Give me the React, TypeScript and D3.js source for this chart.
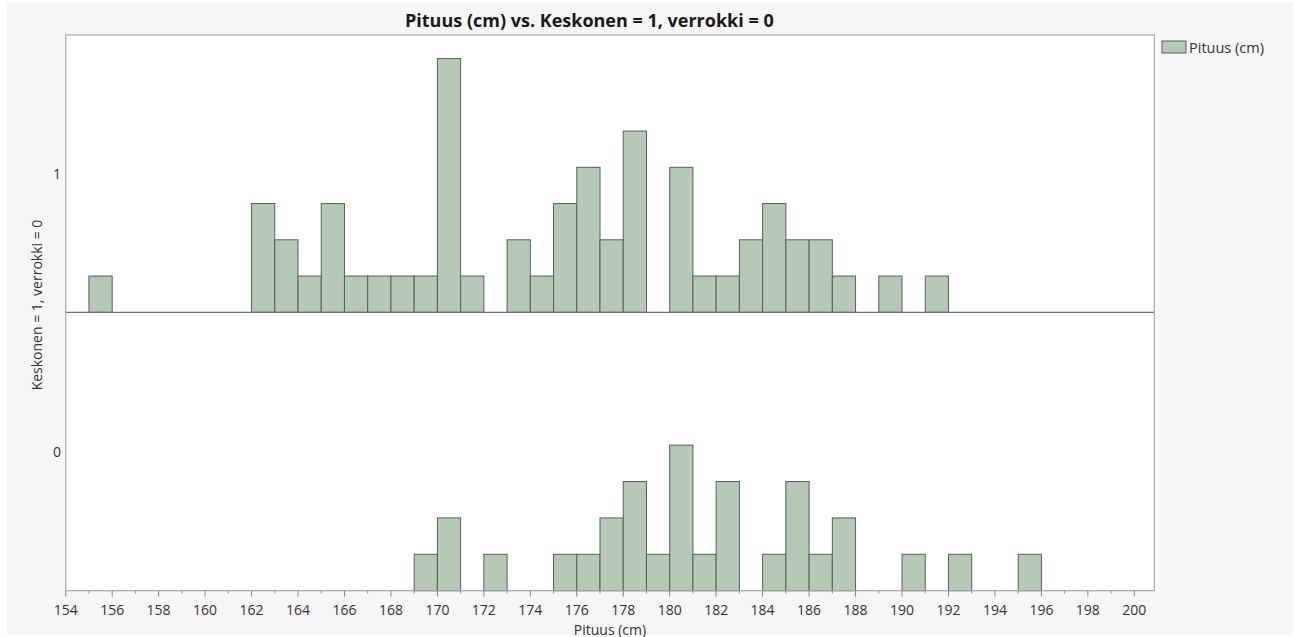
import React, { useEffect } from "react";
import * as d3 from "d3";

// Height histogram (cm), split by group: Keskonen = 1 (upper panel), verrokki = 0 (lower panel)
const groupLabels = ["1", "0"];

const keskonenBins = [155, 162, 163, 164, 165, 166, 167, 168, 169, 170, 171, 173, 174, 175, 176, 177, 178, 180, 181, 182, 183, 184, 185, 186, 187, 189, 191];
const keskonenCounts = [1, 3, 2, 1, 3, 1, 1, 1, 1, 7, 1, 2, 1, 3, 4, 2, 5, 4, 1, 1, 2, 3, 2, 2, 1, 1, 1];

const verrokkiBins = [169, 170, 172, 175, 176, 177, 178, 179, 180, 181, 182, 184, 185, 186, 187, 190, 192, 195];
const verrokkiCounts = [1, 2, 1, 1, 1, 2, 3, 1, 4, 1, 3, 1, 3, 1, 2, 1, 1, 1];

const binWidth = 1;
const xMin = 154;
const xMax = 200.86;
const countMax = 7.65;

const majorTicks = [154, 156, 158, 160, 162, 164, 166, 168, 170, 172, 174, 176, 178, 180, 182, 184, 186, 188, 190, 192, 194, 196, 198, 200];
const minorTicks = [155, 157, 159, 161, 163, 165, 167, 169, 171, 173, 175, 177, 179, 181, 183, 185, 187, 189, 191, 193, 195, 197, 199];

const titleText = "Pituus (cm) vs. Keskonen = 1, verrokki = 0";
const xTitle = "Pituus (cm)";
const yTitle = "Keskonen = 1, verrokki = 0";
const legendText = "Pituus (cm)";

const W = 1298;
const H = 637;
const left = 65.7;
const right = 1154.3;
const top = 35;
const mid = 312.3;
const bottom = 590.7;

const FONT = "'Segoe UI', 'Open Sans', sans-serif";
const BAR_FILL = "#b6c8b6";
const BAR_STROKE = "#55605a";

export default function App() {
  useEffect(() => {
    document.body.style.margin = "0";
  }, []);

  const x = d3.scaleLinear().domain([xMin, xMax]).range([left, right]);
  const yTop = d3.scaleLinear().domain([0, countMax]).range([mid, top]);
  const yBottom = d3.scaleLinear().domain([0, countMax]).range([bottom, mid]);

  const panels = [
    { bins: keskonenBins, counts: keskonenCounts, y: yTop, label: groupLabels[0] },
    { bins: verrokkiBins, counts: verrokkiCounts, y: yBottom, label: groupLabels[1] },
  ];

  return (
    <svg width={W} height={H} style={{ display: "block" }} fontFamily={FONT}>
      <rect x={0} y={0} width={W} height={H} fill="#ffffff" />
      <rect x={7} y={2} width={1286} height={633} fill="#f6f6f6" />

      <text x={405} y={27} textAnchor="start" fontWeight="bold" fontSize={18} fill="#1a1a1a">
        {titleText}
      </text>

      <rect x={left} y={top} width={right - left} height={bottom - top} fill="#ffffff" />

      {panels.map((p, pi) => (
        <g key={pi}>
          {p.bins.map((b, i) => (
            <rect
              key={b}
              x={x(b)}
              y={p.y(p.counts[i])}
              width={x(b + binWidth) - x(b)}
              height={p.y(0) - p.y(p.counts[i])}
              fill={BAR_FILL}
              stroke={BAR_STROKE}
              strokeWidth={1}
            />
          ))}
          <text
            x={61}
            y={(p.y.range()[0] + p.y.range()[1]) / 2}
            textAnchor="end"
            dominantBaseline="central"
            fontSize={14}
            fill="#333"
          >
            {p.label}
          </text>
        </g>
      ))}

      {/* frame and panel divider */}
      <line x1={left} x2={right} y1={mid} y2={mid} stroke="#6f6f6f" strokeWidth={1.2} />
      <rect x={left} y={top} width={right - left} height={bottom - top} fill="none" stroke="#a8a8a8" strokeWidth={1.2} />

      {/* x axis ticks */}
      {majorTicks.map((t) => (
        <g key={t}>
          <line x1={x(t)} x2={x(t)} y1={bottom} y2={bottom + 6} stroke="#888" />
          <text x={x(t)} y={615} textAnchor="middle" fontSize={14} fill="#333">
            {t}
          </text>
        </g>
      ))}
      {minorTicks.map((t) => (
        <line key={t} x1={x(t)} x2={x(t)} y1={bottom} y2={bottom + 3} stroke="#999" />
      ))}

      <text x={(left + right) / 2} y={634.5} textAnchor="middle" fontSize={14} fill="#333">
        {xTitle}
      </text>

      <text
        transform={`translate(42, 305) rotate(-90)`}
        textAnchor="middle"
        fontSize={14}
        fill="#333"
      >
        {yTitle}
      </text>

      {/* legend */}
      <rect x={1162} y={41} width={24} height={12} fill={BAR_FILL} stroke={BAR_STROKE} strokeWidth={1} />
      <text x={1189} y={52.5} fontSize={14.5} fill="#333">
        {legendText}
      </text>
    </svg>
  );
}
